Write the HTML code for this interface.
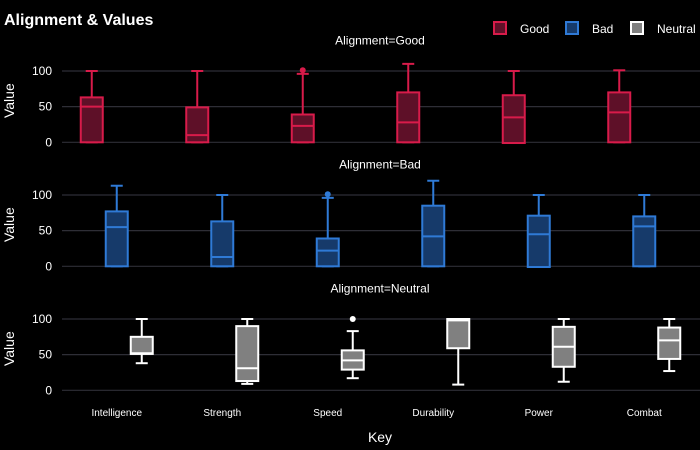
<!DOCTYPE html>
<html><head><meta charset="utf-8"><style>
body{margin:0;background:#000;}
svg{display:block;font-family:"Liberation Sans",sans-serif;}
</style></head><body>
<svg id="chart" width="700" height="450">
<rect width="700" height="450" fill="#000"/>
<text x="4" y="25" fill="#fff" font-size="16" font-weight="bold">Alignment &amp; Values</text>
<g>
<g><rect x="494" y="22" width="12" height="12" fill="#5e1028" stroke="#d81b4a" stroke-width="2"/><text x="520" y="33" fill="#fff" font-size="12">Good</text></g>
<g><rect x="566" y="22" width="12" height="12" fill="#163a6a" stroke="#2f7ad6" stroke-width="2"/><text x="592" y="33" fill="#fff" font-size="12">Bad</text></g>
<g><rect x="631" y="22" width="12" height="12" fill="#808080" stroke="#fff" stroke-width="2"/><text x="657" y="33" fill="#fff" font-size="12">Neutral</text></g>
</g>
<text x="380" y="442" fill="#fff" font-size="14" text-anchor="middle">Key</text>
</svg>
<script>
const categories=["Intelligence","Strength","Speed","Durability","Power","Combat"];
const groups=["Good","Bad","Neutral"];
const yTicks=[0,50,100];
// [lowerWhisker, q1, median, q3, upperWhisker]
const goodStats=[[0,0,50,63,100],[0,0,10,49,100],[0,0,23,39,96],[0,0,28,70,110],[-1,-1,35,66,100],[0,0,42,70,101]];
const badStats=[[0,0,55,77,113],[0,0,13,63,100],[0,0,22,39,96],[0,0,42,85,120],[-1,-1,45,71,100],[0,0,56,70,100]];
const neutralStats=[[38,51,52,75,100],[9,13,31,90,100],[17,29,42,56,83],[8,59,98,100,100],[12,33,61,89,100],[27,44,70,88,100]];
const goodOutliers=[[2,101]];
const badOutliers=[[2,101]];
const neutralOutliers=[[2,100]];
const statsByGroup=[goodStats,badStats,neutralStats];
const outliersByGroup=[goodOutliers,badOutliers,neutralOutliers];
const styles=[{s:"#d81b4a",f:"#5e1028"},{s:"#2f7ad6",f:"#163a6a"},{s:"#ffffff",f:"#808080"}];
const panelZero=[142.3,266.3,390.3];
const pxPerUnit=0.713;
const NS="http://www.w3.org/2000/svg";
const svg=document.getElementById("chart");
function mk(tag,attrs,parent){const e=document.createElementNS(NS,tag);for(const k in attrs)e.setAttribute(k,attrs[k]);(parent||svg).appendChild(e);return e;}
function xBand(i){return 64+(i+0.5)*105.5;}
function xOff(g){return (g-1)*25;}
groups.forEach((gname,g)=>{
  const y0=panelZero[g];
  const y=v=>y0-v*pxPerUnit;
  const panel=mk("g",{});
  
  
  yTicks.forEach(t=>{
    const l=mk("line",{x1:62,x2:700,y1:y(t),y2:y(t),stroke:"#2e2e36","stroke-width":1.2},panel);
    
    
    const tx=mk("text",{x:52,y:y(t)+4,fill:"#fff","font-size":12,"text-anchor":"end"},panel);
    tx.textContent=t;
    
    
  });
  const yl=mk("text",{x:0,y:0,fill:"#fff","font-size":14,"text-anchor":"middle",transform:`translate(14,${y(50)-6}) rotate(-90)`},panel);
  yl.textContent="Value";
  
  
  const ft=mk("text",{x:380,y:y0-98,fill:"#fff","font-size":12,"text-anchor":"middle"},panel);
  ft.textContent="Alignment="+gname;
  
  
  const st=styles[g];
  statsByGroup[g].forEach((s,i)=>{
    const cx=xBand(i)+xOff(g),w=22;
    const bg=mk("g",{stroke:st.s,"stroke-width":2},panel);
    
    
    mk("line",{x1:cx,x2:cx,y1:y(s[4]),y2:y(s[3])},bg);
    mk("line",{x1:cx,x2:cx,y1:y(s[1]),y2:y(s[0])},bg);
    mk("line",{x1:cx-6,x2:cx+6,y1:y(s[4]),y2:y(s[4])},bg);
    mk("line",{x1:cx-6,x2:cx+6,y1:y(s[0]),y2:y(s[0])},bg);
    mk("rect",{x:cx-w/2,y:y(s[3]),width:w,height:Math.max(1,y(s[1])-y(s[3])),fill:st.f},bg);
    mk("line",{x1:cx-w/2,x2:cx+w/2,y1:y(s[2]),y2:y(s[2])},bg);
  });
  outliersByGroup[g].forEach(o=>{
    const c=mk("circle",{cx:xBand(o[0])+xOff(g),cy:y(o[1]),r:3,fill:st.s},panel);
    
    
  });
});
categories.forEach((c,i)=>{
  const t=mk("text",{x:xBand(i),y:416,fill:"#fff","font-size":10,"text-anchor":"middle"});
  t.textContent=c;
  
  
});
</script>
</body></html>
